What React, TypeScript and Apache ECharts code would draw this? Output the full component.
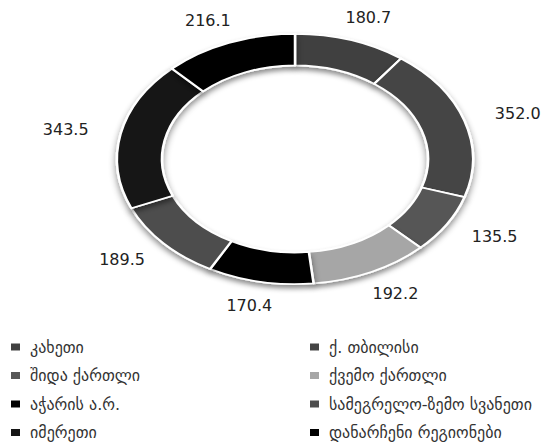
import React, { useEffect, useRef } from 'react';
import * as echarts from 'echarts';

const regions = [
  'კახეთი',
  'ქ. თბილისი',
  'შიდა ქართლი',
  'ქვემო ქართლი',
  'აჭარის ა.რ.',
  'სამეგრელო-ზემო სვანეთი',
  'იმერეთი',
  'დანარჩენი რეგიონები',
];
const values = [180.7, 352.0, 135.5, 192.2, 170.4, 189.5, 343.5, 216.1];
const colors = ['#404040', '#444444', '#575757', '#a6a6a6', '#000000', '#4d4d4d', '#151515', '#000000'];
const leftLegend = ['კახეთი', 'შიდა ქართლი', 'აჭარის ა.რ.', 'იმერეთი'];
const rightLegend = ['ქ. თბილისი', 'ქვემო ქართლი', 'სამეგრელო-ზემო სვანეთი', 'დანარჩენი რეგიონები'];

const CX = 295;
const CY = 159;
const SQUASH = 0.703;
const LABEL_RX = 234;
const LABEL_RY = 149;

export default function App() {
  const ringRef = useRef<HTMLDivElement>(null);
  const textRef = useRef<HTMLDivElement>(null);

  useEffect(() => {
    const ring = echarts.init(ringRef.current!, undefined, { renderer: 'svg' });
    const text = echarts.init(textRef.current!, undefined, { renderer: 'svg' });

    ring.setOption({
      animation: false,
      series: [
        {
          type: 'pie',
          silent: true,
          center: [CX, 199],
          radius: [133, 178],
          startAngle: 90,
          clockwise: true,
          label: { show: false },
          labelLine: { show: false },
          itemStyle: {
            borderColor: '#ffffff',
            borderWidth: 2.5,
            shadowBlur: 7,
            shadowOffsetY: 5,
            shadowColor: 'rgba(0,0,0,0.45)',
          },
          data: regions.map((name, i) => ({ name, value: values[i], itemStyle: { color: colors[i] } })),
        },
      ],
    });

    const legendBase = {
      orient: 'vertical',
      top: 333,
      height: 112,
      icon: 'rect',
      itemWidth: 9,
      itemHeight: 7,
      itemGap: 10.5,
      selectedMode: false,
      itemStyle: { opacity: 1 },
      textStyle: {
        fontFamily: 'DejaVu Sans',
        fontSize: 16,
        color: '#333333',
        lineHeight: 18,
        padding: [0, 0, 0, 5],
      },
    };

    text.setOption({
      animation: false,
      legend: [
        {
          ...legendBase,
          left: 6,
          data: leftLegend.map((n) => ({ name: n, itemStyle: { color: colors[regions.indexOf(n)], opacity: 1 } })),
        },
        {
          ...legendBase,
          left: 305,
          data: rightLegend.map((n) => ({ name: n, itemStyle: { color: colors[regions.indexOf(n)], opacity: 1 } })),
        },
      ],
      series: [
        {
          type: 'pie',
          silent: true,
          center: [CX, CY],
          radius: [60, 100],
          startAngle: 90,
          clockwise: true,
          labelLine: { show: false },
          label: {
            show: true,
            position: 'inside',
            fontFamily: 'DejaVu Sans',
            fontSize: 16,
            color: '#222222',
            formatter: (p: any) => Number(p.value).toFixed(1),
          },
          labelLayout: (params: any) => {
            const r = params.labelRect;
            const lx = r.x + r.width / 2;
            const ly = r.y + r.height / 2;
            const dx = lx - CX;
            const dy = ly - CY;
            const d = Math.hypot(dx, dy) || 1;
            return {
              x: CX + (LABEL_RX * dx) / d,
              y: CY + (LABEL_RY * dy) / d,
              align: 'center',
              verticalAlign: 'middle',
            };
          },
          data: regions.map((name, i) => ({
            name,
            value: values[i],
            itemStyle: { color: 'rgba(0,0,0,0)' },
          })),
        },
      ],
    });

    return () => {
      ring.dispose();
      text.dispose();
    };
  }, []);

  return (
    <div
      style={{
        position: 'fixed',
        left: 0,
        top: 0,
        width: 544,
        height: 447,
        overflow: 'hidden',
        background: '#ffffff',
      }}
    >
      <div
        ref={ringRef}
        style={{
          position: 'absolute',
          left: 0,
          top: -40,
          width: 544,
          height: 500,
          transform: `scaleY(${SQUASH})`,
          transformOrigin: `${CX}px 199px`,
        }}
      />
      <div
        ref={textRef}
        style={{ position: 'absolute', left: 0, top: 0, width: 544, height: 447 }}
      />
    </div>
  );
}
